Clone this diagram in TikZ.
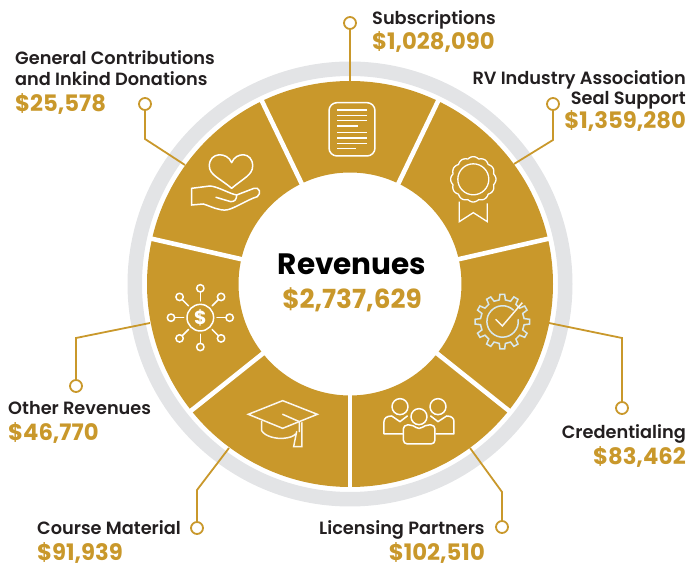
\documentclass[tikz,border=0pt]{standalone}
\usepackage{fontspec}
\setmainfont{Poppins}[BoldFont={Poppins Bold}]
\newfontfamily\labfont{Poppins SemiBold}
\definecolor{goldc}{HTML}{C9982B}
\definecolor{ringc}{HTML}{E3E4E6}
\definecolor{darkc}{HTML}{231F20}
\definecolor{gearc}{HTML}{D8E8EE}
\tikzset{
  lab/.style={font=\labfont\fontsize{17.75}{20}\selectfont,text=darkc,inner sep=0pt},
  val/.style={font=\bfseries\fontsize{22.7}{26}\selectfont,text=goldc,inner sep=0pt},
  pin/.style={circle,draw=goldc,line width=1.8pt,fill=white,minimum size=12pt,inner sep=0pt},
  lead/.style={draw=goldc,line width=1.8pt,line join=miter},
  icon/.style={draw=white,line width=1.5pt,line join=round,line cap=round},
}
\begin{document}
\begin{tikzpicture}[x=1pt,y=-1pt]
\useasboundingbox (0,0) rectangle (689,569);
\coordinate (c) at (350,284);
% rings
\fill[ringc,even odd rule] (c) circle[radius=222.5pt] (c) circle[radius=208pt];
\fill[goldc,even odd rule] (c) circle[radius=203pt] (c) circle[radius=111.5pt];
\foreach \a in {12.86,64.29,115.71,167.14,218.57,270,321.43}
  \draw[white,line width=4.6pt] (c) ++(\a:108pt) -- ++(\a:98pt);
% leader end points
\coordinate (e1) at (350,83);
\coordinate (e2) at (514,164);
\coordinate (e3) at (549,323);
\coordinate (e4) at (470,448);
\coordinate (e5) at (229,448);
\coordinate (e6) at (150,323);
\coordinate (e7) at (185,165);
% pins
\node[pin] (p1) at (350,23) {};
\node[pin] (p2) at (553,104) {};
\node[pin] (p3) at (622,408) {};
\node[pin] (p4) at (502,527) {};
\node[pin] (p5) at (197,528) {};
\node[pin] (p6) at (76,386) {};
\node[pin] (p7) at (145,104) {};
\draw[lead] (p1) -- (e1);
\draw[lead] (p2) -- (553,140) -- (e2);
\draw[lead] (p3) -- (622,338) -- (e3);
\draw[lead] (p4) -- (502,492) -- (e4);
\draw[lead] (p5) -- (197,490) -- (e5);
\draw[lead] (p6) -- (76,338) -- (e6);
\draw[lead] (p7) -- (145,139) -- (e7);
% labels
\node[lab,anchor=base west] (t1) at (372,24.5) {Subscriptions};
\node[val,anchor=base west] (v1) at (372,50) {\$1,028,090};
\node[lab,anchor=base east] (t2) at (686,84.5) {RV Industry Association};
\node[lab,anchor=base east] (t2b) at (686,104.5) {Seal Support};
\node[val,anchor=base east] (v2) at (686,129) {\$1,359,280};
\node[lab,anchor=base east] (t3) at (686,438.5) {Credentialing};
\node[val,anchor=base east] (v3) at (686,465) {\$83,462};
\node[lab,anchor=base west] (t4) at (319,534.5) {Licensing Partners};
\node[val,anchor=base east] (v4) at (485,561) {\$102,510};
\node[lab,anchor=base west] (t5) at (37,534.5) {Course Material};
\node[val,anchor=base west] (v5) at (37,561) {\$91,939};
\node[lab,anchor=base west] (t6) at (8,414.5) {Other Revenues};
\node[val,anchor=base west] (v6) at (8,440.5) {\$46,770};
\node[lab,anchor=base west] (t7) at (15,64.5) {General Contributions};
\node[lab,anchor=base west] (t7b) at (15,85.5) {and Inkind Donations};
\node[val,anchor=base west] (v7) at (15,111.5) {\$25,578};
\node[inner sep=0pt,anchor=base,font=\bfseries\fontsize{29.5}{34}\selectfont,text=black] (ct) at (352,275) {Revenues};
\node[val,inner sep=0pt,anchor=base,font=\bfseries\fontsize{26.3}{30}\selectfont] (cv) at (352,309) {\$2,737,629};
% document icon
\begin{scope}[shift={(320,80)},x=.3333pt,y=-.3333pt]
  \draw[icon,rounded corners=8pt] (27,68) rectangle (165,228);
  \foreach \yy/\xx in {90/140,106/140,122/140,138/115,158/140,174/140,190/140,206/107}
    \draw[icon,line cap=butt] (52,\yy) -- (\xx,\yy);
  % seal
  \draw[icon,line width=1.3pt] plot[domain=0:360,samples=121,smooth] ({460+(63+5*abs(cos(6*\x)))*cos(\x)},{298+(63+5*abs(cos(6*\x)))*sin(\x)}) -- cycle;
  \draw[icon,line width=1.3pt] (460,298) circle[radius=15.5pt];
  \draw[icon,line width=1.3pt,line cap=butt,line join=miter] (418,365) -- (418,425) -- (460,398) -- (502,425) -- (502,370);
\end{scope}
% heart and hand icon
\begin{scope}[shift={(140,80)},x=.3333pt,y=-.3333pt]
  \draw[icon] (275,325) .. controls (240,295) and (208,285) .. (208,258)
     .. controls (208,215) and (262,215) .. (275,248)
     .. controls (288,215) and (338,215) .. (338,258)
     .. controls (338,285) and (310,295) .. (275,325) -- cycle;
  \draw[icon,line join=miter] (155,325) -- (155,375) -- (190,372)
     .. controls (215,380) and (235,392) .. (260,390)
     .. controls (285,385) and (320,360) .. (352,350)
     .. controls (365,340) and (358,320) .. (342,325)
     -- (290,345) .. controls (270,342) and (235,320) .. (210,318) -- cycle;
  \draw[icon] (228,352) -- (272,365) .. controls (285,365) and (290,358) .. (290,345);
\end{scope}
% dollar network icon
\begin{scope}[shift={(150,260)},x=.3333pt,y=-.3333pt]
  \draw[icon] (151,173) circle[radius=13.3pt];
  \node[text=white,inner sep=0pt,font=\bfseries\fontsize{19}{22}\selectfont] (dollar) at (151,174) {\$};
  \foreach \a in {0,45,...,315} {
    \draw[icon] ({151+50*cos(\a)},{173+50*sin(\a)}) -- ({151+77*cos(\a)},{173+77*sin(\a)});
    \draw[icon] ({151+88*cos(\a)},{173+88*sin(\a)}) circle[radius=3.7pt];
  }
  % graduation cap
  \draw[icon,draw=white!92!goldc,line join=miter] (295,463) -- (398,422) -- (502,463) -- (398,505) -- cycle;
  \draw[icon,draw=white!92!goldc] (335,484) -- (335,512) .. controls (345,530) and (380,537) .. (400,535) .. controls (415,534) and (430,530) .. (437,522);
  \draw[icon,draw=white!92!goldc] (398,463) -- (448,485) -- (448,515);
  \draw[icon,draw=white!92!goldc,line join=miter] (440,515) -- (431,560) -- (456,560) -- (456,488);
\end{scope}
% gear icon and people icon
\begin{scope}[shift={(350,280)},x=.3333pt,y=-.3333pt]
  \draw[icon,draw=gearc,line join=miter] ({457+66*cos(-8)},{125+66*sin(-8)})
    \foreach \a in {0,30,...,330} {
      -- ({457+66*cos(\a-8)},{125+66*sin(\a-8)})
      -- ({457+82*cos(\a-5)},{125+82*sin(\a-5)})
      -- ({457+82*cos(\a+5)},{125+82*sin(\a+5)})
      -- ({457+66*cos(\a+8)},{125+66*sin(\a+8)})
    } -- cycle;
  \draw[icon,draw=gearc] (490,90) arc[start angle=47,end angle=367,radius=15.7pt];
  \draw[icon,draw=white!92!goldc,line cap=butt,line join=miter] (437,118) -- (457,138) -- (517,68);
  \draw[icon] (207,410) circle[radius=8pt];
  \draw[icon] (150,380) circle[radius=8pt];
  \draw[icon] (264,380) circle[radius=8pt];
  \draw[icon,rounded corners=4pt] (160,492) -- (160,435) -- (190,435) -- (207,450) -- (225,435) -- (255,435) -- (255,492) -- cycle;
  \draw[icon] (158,462) -- (102,462) -- (102,425) .. controls (102,415) and (110,408) .. (125,408) -- (150,425) -- (172,408);
  \draw[icon] (258,462) -- (312,462) -- (312,425) .. controls (312,415) and (305,408) .. (290,408) -- (264,425) -- (242,408);
\end{scope}
\end{tikzpicture}
\end{document}
